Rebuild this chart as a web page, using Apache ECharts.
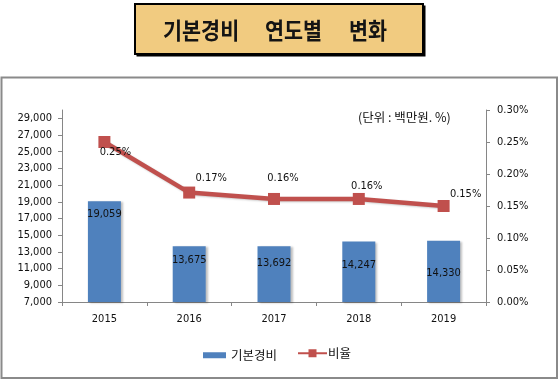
<!DOCTYPE html>
<html>
<head>
<meta charset="utf-8">
<script src="https://cdn.jsdelivr.net/npm/echarts@6/dist/echarts.min.js"></script>
<style>
html,body{margin:0;padding:0;background:#fff;}
#c{width:559px;height:380px;}
</style>
</head>
<body>
<div id="c"></div>
<script>
// ---- data ----
const categories = ['2015', '2016', '2017', '2018', '2019'];
const costValues = [19059, 13675, 13692, 14247, 14330];        // 기본경비 (백만원)
const ratioValues = [0.25, 0.171, 0.161, 0.161, 0.150];        // 비율 (%)
const leftTicks = [7000, 9000, 11000, 13000, 15000, 17000, 19000, 21000, 23000, 25000, 27000, 29000];
const rightTicks = [0, 0.05, 0.10, 0.15, 0.20, 0.25, 0.30];
const titleWords = ['기본경비', '연도별', '변화'];
const unitText = '(단위 : 백만원. %)';
const seriesNames = ['기본경비', '비율'];

// ---- label placement (style only) ----
const barLabelOffsets = [7, 8, 12, 18, 27];
const lineLabelOffsets = [[11, 10], [22, -14], [9, -21], [8, -13], [22, -12]];

const numFont = '"DejaVu Sans Condensed", "Liberation Sans", sans-serif';
const krFont = '"Noto Sans CJK KR", sans-serif';

const chart = echarts.init(document.getElementById('c'), null, {renderer: 'canvas'});

const fmtNum = v => Math.round(v).toLocaleString('en-US');
const fmtPct = v => v.toFixed(2) + '%';

const barData = costValues.map((v, i) => ({
  value: v,
  label: {offset: [0, barLabelOffsets[i]]}
}));
const lineData = ratioValues.map((v, i) => ({
  value: v,
  label: {offset: lineLabelOffsets[i]}
}));

const titleX = [163, 265, 349];

const option = {
  animation: false,
  backgroundColor: '#fff',
  graphic: [
    {type: 'rect', shape: {x: 136.5, y: 5.5, width: 289, height: 51}, style: {fill: '#000'}, z: 1},
    {type: 'rect', shape: {x: 135, y: 4, width: 288, height: 50}, style: {fill: '#F1CB80', stroke: '#000', lineWidth: 2}, z: 2},
    ...titleWords.map((w, i) => ({
      type: 'text', x: titleX[i], y: 30, z: 3, scaleX: 0.9,
      style: {text: w, font: 'bold 23px "Noto Sans CJK KR", sans-serif', fill: '#141414', textVerticalAlign: 'middle', textAlign: 'left'}
    })),
    {type: 'rect', shape: {x: 1.5, y: 77.5, width: 555.5, height: 300.5}, style: {fill: 'none', stroke: '#8a8a8a', lineWidth: 2}, z: 0},
    {type: 'text', x: 358, y: 117, z: 3,
      style: {text: unitText, font: 'normal 12.5px "Noto Sans CJK KR", sans-serif', fill: '#111', textVerticalAlign: 'middle'}}
  ],
  legend: [
    {data: [seriesNames[0]], left: 203, top: 349, padding: 0, itemWidth: 23, itemHeight: 6, icon: 'rect',
      textStyle: {fontFamily: krFont, fontSize: 12.5, color: '#111'}},
    {data: [seriesNames[1]], left: 297, top: 347, padding: 0, itemWidth: 29, itemHeight: 10,
      textStyle: {fontFamily: krFont, fontSize: 12.5, color: '#111', padding: [0, 0, 0, -4]}}
  ],
  grid: {left: 62, right: 73, top: 110, bottom: 78, containLabel: false},
  xAxis: {
    type: 'category',
    data: categories,
    boundaryGap: true,
    axisLine: {lineStyle: {color: '#868686', width: 1}},
    axisTick: {show: true, alignWithLabel: false, length: 4, lineStyle: {color: '#868686'}},
    axisLabel: {margin: 12, fontFamily: numFont, fontSize: 11, color: '#111'},
    splitLine: {show: false}
  },
  yAxis: [
    {
      type: 'value', min: 7000, max: 30000, interval: 2000, position: 'left',
      axisLine: {show: true, lineStyle: {color: '#868686'}},
      axisTick: {show: true, inside: false, length: 4, lineStyle: {color: '#868686'}, customValues: leftTicks},
      axisLabel: {margin: 10, fontFamily: numFont, fontSize: 11, color: '#111', formatter: fmtNum, customValues: leftTicks},
      splitLine: {show: false}
    },
    {
      type: 'value', min: 0, max: 0.30, interval: 0.05, position: 'right',
      axisLine: {show: true, lineStyle: {color: '#868686'}},
      axisTick: {show: true, inside: false, length: 4, lineStyle: {color: '#868686'}, customValues: rightTicks},
      axisLabel: {margin: 11, fontFamily: numFont, fontSize: 11, color: '#111', formatter: fmtPct, customValues: rightTicks},
      splitLine: {show: false}
    }
  ],
  series: [
    {
      name: seriesNames[0], type: 'bar', yAxisIndex: 0, data: barData,
      barWidth: 33,
      itemStyle: {color: '#4F81BD', shadowColor: 'rgba(0,0,0,0.25)', shadowOffsetX: 2, shadowOffsetY: 1, shadowBlur: 2},
      label: {show: true, position: 'insideTop', distance: 0, fontFamily: numFont, fontSize: 11, color: '#111', formatter: p => fmtNum(p.value)},
      z: 2
    },
    {
      name: seriesNames[1], type: 'line', yAxisIndex: 1, data: lineData,
      symbol: 'rect', symbolSize: 12,
      lineStyle: {color: '#C0504D', width: 4.5, shadowColor: 'rgba(0,0,0,0.2)', shadowOffsetX: 1, shadowOffsetY: 1, shadowBlur: 2},
      itemStyle: {color: '#C0504D'},
      label: {show: true, position: 'inside', fontFamily: numFont, fontSize: 11, color: '#111', formatter: p => fmtPct(p.value)},
      z: 3
    }
  ]
};
chart.setOption(option);
</script>
</body>
</html>
